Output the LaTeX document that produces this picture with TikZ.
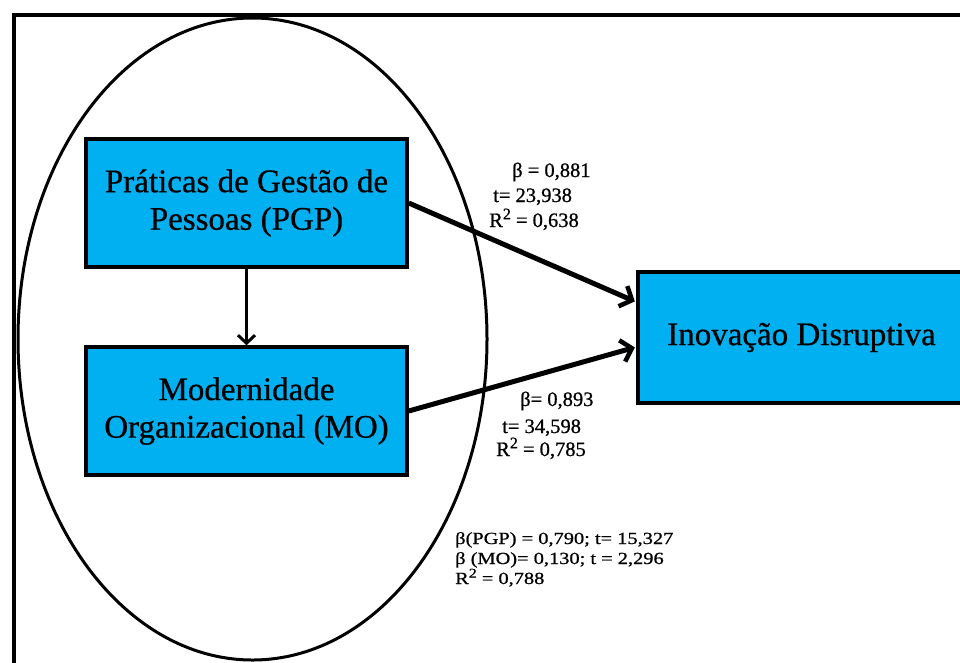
\documentclass[tikz,border=0pt]{standalone}
\usepackage{fontspec}
\setmainfont{Liberation Serif}[FakeBold=0.6]
\newfontfamily\lblfont[FakeStretch=1.2,FakeBold=0.8]{Liberation Serif}
\newfontfamily\toplblfont[FakeBold=0.8]{Liberation Serif}
\newcommand{\sqtwo}{\raisebox{0.38em}{\scalebox{0.78}{2}}}
\usetikzlibrary{arrows.meta}
\definecolor{boxblue}{RGB}{0,176,240}
\begin{document}
\begin{tikzpicture}[x=1pt,y=-1pt,
  box/.style={draw=black, line width=3.5pt, fill=boxblue, minimum width=321pt, minimum height=128pt, align=center, font=\fontsize{33}{37.5}\selectfont, inner sep=0pt},
  lbl/.style={anchor=base west, inner sep=0pt, font=\toplblfont\fontsize{20.5}{24}\selectfont},
  lblb/.style={anchor=base west, inner sep=0pt, font=\lblfont\fontsize{17}{20}\selectfont},
  bigarrow/.style={line width=5pt, shorten >=1.5pt, -{Straight Barb[length=10pt,width=22pt,line width=4.5pt]}},
  smallarrow/.style={line width=3pt, -{Straight Barb[length=8pt,width=17pt,line width=3pt]}},
]
\useasboundingbox (0,0) rectangle (960,662);
\clip (0,0) rectangle (960,662);
\fill[white] (0,0) rectangle (960,662);
\draw[line width=4pt] (13.5,15) rectangle (990,700);
\draw[line width=3pt] (252.5,339) ellipse [x radius=234.5pt, y radius=321pt];

\node[box] (pgp) at (246.5,203) {Práticas de Gestão de\\Pessoas (PGP)};
\node[box] (mo) at (246.5,411) {Modernidade\\Organizacional (MO)};
\node[box, minimum width=327pt, minimum height=131pt] (id) at (801.5,337.5) {Inovação Disruptiva};

\draw[smallarrow] (pgp.south) -- (mo.north);
\draw[bigarrow] (pgp.east) -- ([yshift=35.5pt]id.west);
\draw[bigarrow] (mo.east) -- ([yshift=-9.5pt]id.west);

\node[lbl] (b1) at (512,177) {β = 0,881};
\node[lbl] (t1) at (493,202) {t= 23,938};
\node[lbl] (r1) at (489,227) {R\sqtwo{} = 0,638};
\node[lbl] (b2) at (520,406) {β= 0,893};
\node[lbl] (t2) at (502,433) {t= 34,598};
\node[lbl] (r2) at (496,456) {R\sqtwo{} = 0,785};
\node[lblb] (b3) at (455,544) {β(PGP) = 0,790; t= 15,327};
\node[lblb] (b4) at (455,564) {β (MO)= 0,130; t = 2,296};
\node[lblb] (r3) at (455,584) {R\sqtwo{} = 0,788};
\end{tikzpicture}
\end{document}
